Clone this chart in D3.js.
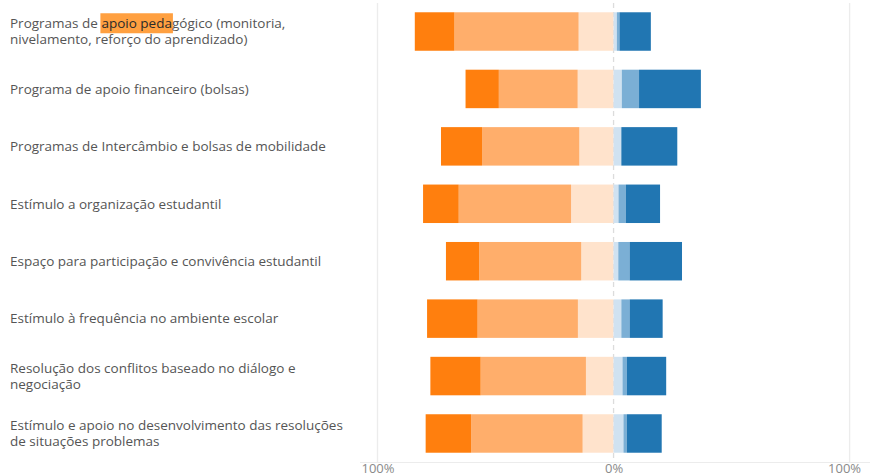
<!DOCTYPE html>
<html>
<head>
<meta charset="utf-8">
<script src="https://cdn.jsdelivr.net/npm/d3@7/dist/d3.min.js"></script>
<style>
  html, body { margin: 0; padding: 0; background: #fff; }
  svg { display: block; }
  .lbl { font-family: "Open Sans", "Noto Sans", sans-serif; font-size: 13.5px; fill: #555; }
  .tick text { font-family: "Open Sans", "Noto Sans", sans-serif; font-size: 13px; fill: #8a8a8a; }
</style>
</head>
<body>
<svg id="chart" width="870" height="476"></svg>
<script>
// ---- data ----
const categories = [
  "Programas de apoio pedagógico (monitoria, nivelamento, reforço do aprendizado)",
  "Programa de apoio financeiro (bolsas)",
  "Programas de Intercâmbio e bolsas de mobilidade",
  "Estímulo a organização estudantil",
  "Espaço para participação e convivência estudantil",
  "Estímulo à frequência no ambiente escolar",
  "Resolução dos conflitos baseado no diálogo e negociação",
  "Estímulo e apoio no desenvolvimento das resoluções de situações problemas"
];
const labelLines = [
  ["Programas de apoio pedagógico (monitoria,", "nivelamento, reforço do aprendizado)"],
  ["Programa de apoio financeiro (bolsas)"],
  ["Programas de Intercâmbio e bolsas de mobilidade"],
  ["Estímulo a organização estudantil"],
  ["Espaço para participação e convivência estudantil"],
  ["Estímulo à frequência no ambiente escolar"],
  ["Resolução dos conflitos baseado no diálogo e", "negociação"],
  ["Estímulo e apoio no desenvolvimento das resoluções", "de situações problemas"]
];
// negative side (percent), from zero outward
const negLight  = [14.8, 15.2, 14.5, 18.0, 13.7, 15.1, 11.7, 13.1];
const negMid    = [52.6, 33.4, 41.2, 47.6, 43.2, 42.5, 44.6, 47.2];
const negDark   = [16.8, 14.1, 17.4, 15.1, 14.1, 21.4, 21.3, 19.3];
// positive side (percent), from zero outward
const posLight  = [1.4, 3.5, 3.3, 2.1, 2.0, 3.3, 3.8, 4.2];
const posMid    = [1.1, 7.3, 0.0, 3.1, 4.8, 3.5, 1.9, 1.4];
const posDark   = [13.3, 26.2, 23.7, 14.5, 22.2, 14.0, 16.6, 14.8];
const tickValues = [-100, 0, 100];
const tickLabels = ["100%", "0%", "100%"];

const negSeries = [
  {values: negLight, color: "#ffe3cc"},
  {values: negMid,   color: "#ffae6b"},
  {values: negDark,  color: "#ff7f0e"}
];
const posSeries = [
  {values: posLight, color: "#d0e2f1"},
  {values: posMid,   color: "#7bafd5"},
  {values: posDark,  color: "#2176b2"}
];

// ---- layout ----
const svg = d3.select("#chart");
const x = d3.scaleLinear().domain([-100, 100]).range([377.5, 849.6]);
const y = d3.scaleBand().domain(categories).range([2.8, 462.2]).paddingInner(0.33).paddingOuter(0.165);

// gridlines
const grid = svg.append("g");
grid.selectAll("line").data(tickValues).join("line")
  .attr("x1", d => x(d)).attr("x2", d => x(d))
  .attr("y1", 3).attr("y2", 462)
  .attr("stroke", d => d === 0 ? "#dcdcdc" : "#ececec")
  .attr("stroke-width", 1.3)
  .attr("stroke-dasharray", d => d === 0 ? "5,4" : null);

// axis
svg.append("line").attr("x1", 360).attr("x2", 870).attr("y1", 462.5).attr("y2", 462.5)
  .attr("stroke", "#ececec").attr("stroke-width", 1);
const axis = svg.append("g").attr("transform", "translate(0,462.5)")
  .call(d3.axisBottom(x).tickValues(tickValues).tickFormat((d, i) => tickLabels[i]).tickSize(0).tickPadding(0));
axis.select(".domain").remove();
axis.selectAll(".tick text").attr("y", 0).attr("dy", "0.78em")
  .attr("text-anchor", (d, i) => i === 2 ? "end" : "middle")
  .attr("dx", (d, i) => i === 2 ? "11px" : "0");

// bars
const bars = svg.append("g");
categories.forEach((c, i) => {
  let acc = 0;
  negSeries.forEach(s => {
    const v = s.values[i];
    bars.append("rect")
      .attr("x", x(-(acc + v))).attr("width", x(0) - x(-v))
      .attr("y", y(c)).attr("height", y.bandwidth())
      .attr("fill", s.color);
    acc += v;
  });
  acc = 0;
  posSeries.forEach(s => {
    const v = s.values[i];
    bars.append("rect")
      .attr("x", x(acc)).attr("width", x(v) - x(0))
      .attr("y", y(c)).attr("height", y.bandwidth())
      .attr("fill", s.color);
    acc += v;
  });
});

// labels
const labels = svg.append("g");
categories.forEach((c, i) => {
  const lines = labelLines[i];
  const cy = y(c) + y.bandwidth() / 2;
  const lh = 16.5;
  const start = cy - (lines.length - 1) * lh / 2;
  lines.forEach((ln, j) => {
    const t = labels.append("text").attr("class", "lbl")
      .attr("x", 10).attr("y", start + j * lh).attr("dy", "0.35em");
    if (i === 0 && j === 0) {
      const hl = "apoio peda";
      const k = ln.indexOf(hl);
      t.text(ln);
      const node = t.node();
      const sx = node.getStartPositionOfChar(k).x;
      const w = node.getSubStringLength(k, hl.length);
      labels.insert("rect", "text")
        .attr("x", sx - 1).attr("width", w + 2)
        .attr("y", start - 10).attr("height", 20)
        .attr("fill", "#ffa040");
      t.text(null);
      t.append("tspan").text(ln.slice(0, k));
      t.append("tspan").attr("fill", "#2a2a2a").text(hl);
      t.append("tspan").text(ln.slice(k + hl.length));
    } else {
      t.text(ln);
    }
  });
});
</script>
</body>
</html>
